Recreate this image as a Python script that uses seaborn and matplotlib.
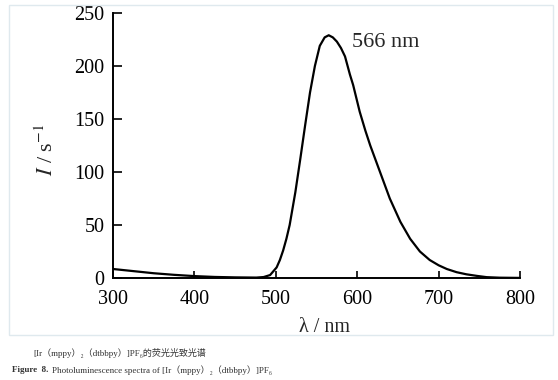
import numpy as np
import pandas as pd
import matplotlib
matplotlib.use("Agg")
import matplotlib.pyplot as plt
import seaborn as sns
from matplotlib.patches import Rectangle

# photoluminescence spectrum
wavelength = [300, 325, 350, 375, 400, 425, 450, 476, 485, 493, 501, 505, 509,
              513, 517, 524, 530, 536, 542, 548, 554, 560, 565, 570, 575, 580,
              585, 591, 595, 603, 610, 616, 628, 640, 653, 665, 677, 689, 700,
              710, 722, 734, 747, 759, 775, 800]
intensity = [8.5, 6.5, 4.5, 3.0, 1.8, 1.0, 0.6, 0.4, 0.9, 2.8, 10, 17, 26,
             37, 50, 81, 112, 144, 175, 200, 219, 227, 229, 227, 223, 217,
             209, 192, 182, 157, 139, 125, 100, 75, 53, 37, 25, 17, 12,
             8.5, 5.5, 3.5, 2.0, 0.8, 0.3, 0.1]
x_ticks = [300, 400, 500, 600, 700, 800]
y_ticks = [0, 50, 100, 150, 200, 250]
peak_label = "566 nm"

df = pd.DataFrame({"wavelength": wavelength, "intensity": intensity})

sns.set_theme(style="ticks")
plt.rcParams["font.family"] = ["Liberation Serif", "Noto Sans CJK SC", "DejaVu Serif"]
plt.rcParams["mathtext.fontset"] = "stix"

fig = plt.figure(figsize=(5.58, 3.8), dpi=100)
fig.patch.set_facecolor("white")
ax = fig.add_axes([0.2025, 0.2684, 0.7295, 0.6974])

sns.lineplot(data=df, x="wavelength", y="intensity", ax=ax, color="black",
             linewidth=1.6, sort=True)

ax.set_xlim(300, 800)
ax.set_ylim(0, 250)
ax.set_xticks(x_ticks)
ax.set_yticks(y_ticks)
ax.set_xlabel("")
ax.set_ylabel("")
sns.despine(ax=ax)
for s in ["left", "bottom"]:
    ax.spines[s].set_linewidth(1.4)
    ax.spines[s].set_color("black")
ax.tick_params(axis="x", direction="in", length=5, width=1.2, pad=8.5,
               labelsize=14.5, colors="black")
ax.tick_params(axis="y", direction="in", length=6.5, width=1.2, pad=6,
               labelsize=14.5, colors="black")
ax.set_facecolor("white")

ax.text(594, 222, peak_label, fontsize=16, va="center", ha="left")

fig.text(0.084, 0.605, r"$I$ / s$^{-1}$", rotation=90, fontsize=16,
         ha="center", va="center")
fig.text(0.582, 0.138, "λ / nm", fontsize=14.5, ha="center", va="center")

# light panel border around the figure
fig.patches.append(Rectangle((0.016, 0.1184), 0.975, 0.8684, transform=fig.transFigure,
                             fill=False, edgecolor="#dfe9ee", linewidth=1.0))

fig.text(0.059, 0.071, "[Ir（mppy）₂（dtbbpy）]PF₆的荧光光致光谱", fontsize=6.5,
         color="#333333", ha="left", va="center")
fig.text(0.022, 0.026, "Figure  8.", fontsize=6.5, fontweight="bold",
         color="#333333", ha="left", va="center")
fig.text(0.094, 0.026, "Photoluminescence spectra of [Ir（mppy）₂（dtbbpy）]PF₆",
         fontsize=6.5, color="#333333", ha="left", va="center")

fig.savefig("out.png", dpi=100)
